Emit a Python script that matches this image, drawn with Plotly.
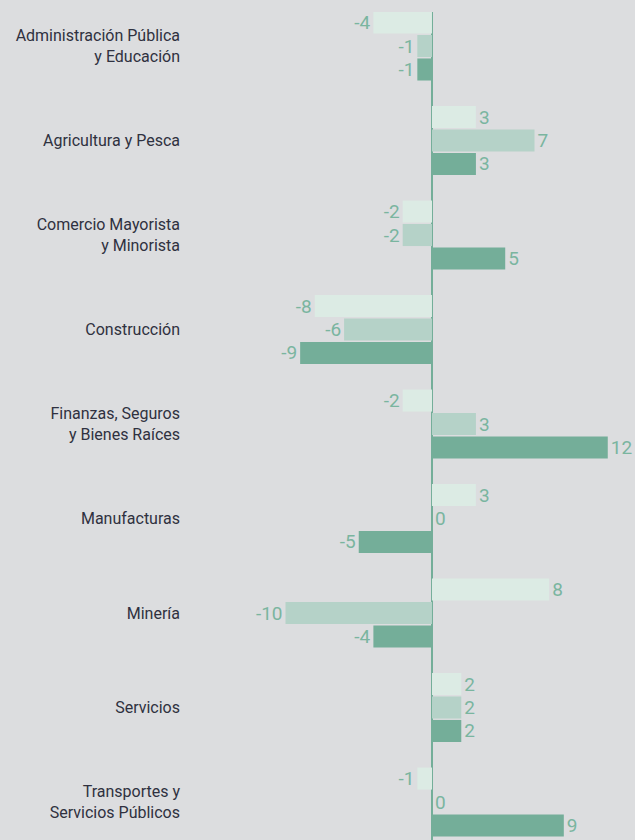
import plotly.graph_objects as go

categories = [
    "Administración Pública<br>y Educación",
    "Agricultura y Pesca",
    "Comercio Mayorista<br>y Minorista",
    "Construcción",
    "Finanzas, Seguros<br>y Bienes Raíces",
    "Manufacturas",
    "Minería",
    "Servicios",
    "Transportes y<br>Servicios Públicos",
]
serie_1 = [-4, 3, -2, -8, -2, 3, 8, 2, -1]
serie_2 = [-1, 7, -2, -6, 3, 0, -10, 2, 0]
serie_3 = [-1, 3, 5, -9, 12, -5, -4, 2, 9]

series = [("Serie 1", serie_1, "#dcebe4"),
          ("Serie 2", serie_2, "#b5d2c8"),
          ("Serie 3", serie_3, "#74ae99")]

fig = go.Figure()
for name, vals, col in series:
    fig.add_trace(go.Bar(
        y=categories, x=vals, name=name, orientation="h",
        marker=dict(color=col, line=dict(width=0)),
        text=[str(v) for v in vals], textposition="outside",
        textfont=dict(family="Roboto", size=19, color="#7ab59f"),
        cliponaxis=False, constraintext="none",
    ))

bg = "#dcdddf"
fig.update_layout(
    width=635, height=840,
    paper_bgcolor=bg, plot_bgcolor=bg,
    barmode="group", bargap=0.255, bargroupgap=0.06,
    showlegend=False,
    margin=dict(l=190, r=0, t=12, b=0),
    xaxis=dict(range=[-16.52, 13.86], showgrid=False, showticklabels=False,
               zeroline=True, zerolinecolor="#74ae99", zerolinewidth=2),
    yaxis=dict(range=[8.402, -0.36], showgrid=False, ticks="",
               tickfont=dict(family="Roboto", size=16, color="#2f3140"),
               ticklabelstandoff=9),
)
fig.write_html(
    "out.html",
    config={"displayModeBar": False},
    post_script="document.body.style.margin='0';document.body.style.overflow='hidden';document.body.style.background='#dcdddf';",
)
